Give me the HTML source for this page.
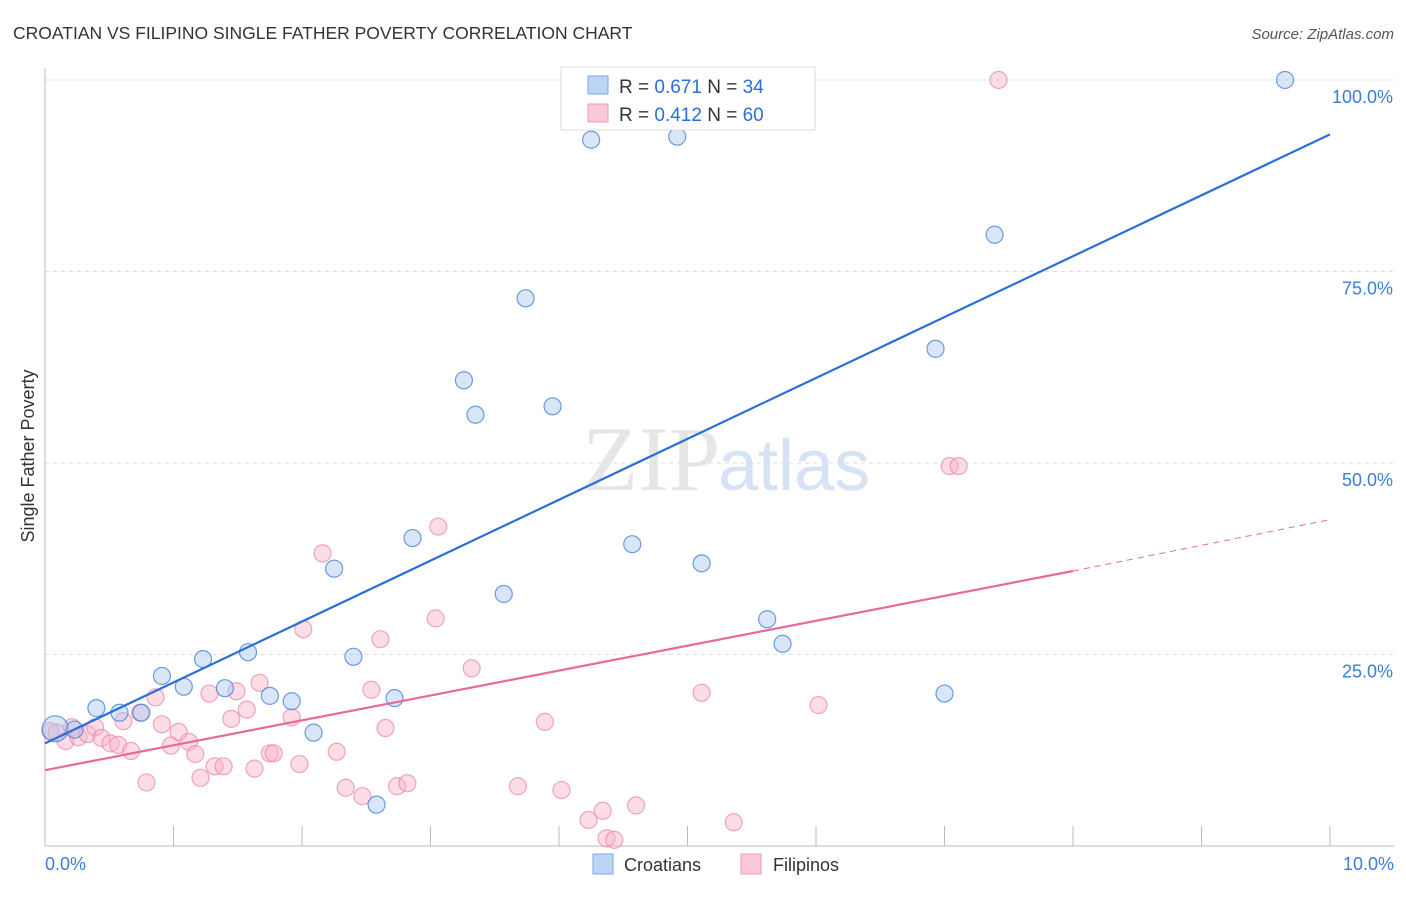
<!DOCTYPE html>
<html><head><meta charset="utf-8">
<style>
body{margin:0;background:#fff;font-family:"Liberation Sans",sans-serif;}
svg text{font-family:"Liberation Sans",sans-serif;}
</style></head>
<body>
<svg width="1406" height="892" xmlns="http://www.w3.org/2000/svg">
<text x="13" y="39" font-size="17.5" fill="#333">CROATIAN VS FILIPINO SINGLE FATHER POVERTY CORRELATION CHART</text>
<text x="1394" y="39" font-size="15" fill="#555" font-style="italic" text-anchor="end">Source: ZipAtlas.com</text>
<text x="720" y="490" font-size="92" fill="#e6e6e6" text-anchor="end" font-family="Liberation Serif" style="font-family:'Liberation Serif',serif">ZIP</text>
<text x="718" y="490" font-size="72" fill="#d5e3f5">atlas</text>
<g id="grid"></g>
<g id="axes"></g>
<g id="marks"></g>
<text transform="translate(34,456) rotate(-90)" font-size="18" fill="#333" text-anchor="middle">Single Father Poverty</text>
<g>
<rect x="561" y="67" width="254" height="63" fill="#fff" stroke="#ddd"/>
<rect x="588" y="76" width="20" height="18" fill="#bcd5f7" stroke="#7aa7e8"/>
<rect x="588" y="104" width="20" height="18" fill="#fbc9d8" stroke="#ee9ab5"/>
<text x="619" y="93" font-size="19" fill="#333">R = <tspan fill="#2b6fd6">0.671</tspan>   N = <tspan fill="#2b6fd6">34</tspan></text>
<text x="619" y="121" font-size="19" fill="#333">R = <tspan fill="#2b6fd6">0.412</tspan>   N = <tspan fill="#2b6fd6">60</tspan></text>
</g>
<g>
<rect x="593" y="854" width="20" height="20" fill="#bcd5f7" stroke="#7aa7e8"/>
<text x="624" y="871" font-size="18" fill="#333">Croatians</text>
<rect x="741" y="854" width="20" height="20" fill="#fbc9d8" stroke="#ee9ab5"/>
<text x="773" y="871" font-size="18" fill="#333">Filipinos</text>
</g>
</svg>
<script>
const xTickLabels=["0.0%","10.0%"];
const yTicks=[25,50,75,100];
const yTickLabels=["25.0%","50.0%","75.0%","100.0%"];
const croX=[0.08,0.23,0.40,0.58,0.75,0.91,1.08,1.23,1.40,1.58,1.75,1.92,2.09,2.25,2.40,2.58,2.72,2.86,3.26,3.35,3.57,3.74,3.95,4.25,4.57,4.92,5.11,5.25,5.62,5.74,6.93,7.00,7.39,9.65];
const croY=[15.3,15.2,18.0,17.4,17.4,22.2,20.8,24.4,20.6,25.3,19.6,18.9,14.8,36.2,24.7,5.4,19.3,40.2,60.8,56.3,32.9,71.5,57.4,92.2,39.4,92.6,36.9,100,29.6,26.4,64.9,19.9,79.8,100];
const filX=[0.04,0.09,0.16,0.21,0.26,0.33,0.39,0.44,0.51,0.57,0.61,0.67,0.79,0.86,0.91,0.98,1.04,1.12,1.17,1.21,1.28,1.32,1.39,1.45,1.49,1.57,1.63,1.67,1.75,1.78,1.92,1.98,2.01,2.16,2.27,2.34,2.47,2.54,2.65,2.61,2.74,2.82,3.06,3.04,3.32,3.68,3.89,4.02,4.23,4.34,4.37,4.43,4.60,5.11,5.36,6.02,7.04,7.11,7.42,0.74];
const filY=[15.0,14.8,13.7,15.5,14.2,14.6,15.5,14.1,13.4,13.2,16.3,12.4,8.3,19.4,15.9,13.1,14.9,13.6,12.0,8.9,19.9,10.4,10.4,16.6,20.2,17.8,10.1,21.3,12.1,12.1,16.8,10.7,28.3,38.2,12.3,7.6,6.5,20.4,15.4,27.0,7.8,8.2,41.7,29.7,23.2,7.8,16.2,7.3,3.4,4.6,1.0,0.8,5.3,20.0,3.1,18.4,49.6,49.6,100,17.4];
const croFit=[13.4,92.9];
const filFit=[9.9,35.9,42.6];
const X0=45,X1=1330,Y0=846,Y100=80;
const sx=v=>X0+(X1-X0)*v/10;
const sy=v=>Y0-(Y0-Y100)*v/100;
const NS="http://www.w3.org/2000/svg";
function mk(tag,attrs,parent){const e=document.createElementNS(NS,tag);for(const k in attrs)e.setAttribute(k,attrs[k]);parent.appendChild(e);return e;}
const grid=document.getElementById('grid'),axes=document.getElementById('axes'),marks=document.getElementById('marks');
yTicks.forEach((t,i)=>{
 const l=mk('line',{x1:X0,x2:1394,y1:sy(t),y2:sy(t),stroke:'#ddd','stroke-dasharray':'4,4'},grid);
 
 
 const tx=mk('text',{x:1393,y:sy(t)+23,'font-size':18,fill:'#3b7dd8','text-anchor':'end'},axes);
 tx.textContent=yTickLabels[i];
 
 
});
const ax=mk('line',{x1:X0,x2:X0,y1:68,y2:846,stroke:'#bbb'},axes);


const bx=mk('line',{x1:X0,x2:1394,y1:846,y2:846,stroke:'#bbb'},axes);


for(let k=1;k<=10;k++){
 const t=mk('line',{x1:sx(k),x2:sx(k),y1:826,y2:846,stroke:'#bbb'},axes);
 
 
}
const xl0=mk('text',{x:45,y:870,'font-size':18,fill:'#3b7dd8'},axes);xl0.textContent=xTickLabels[0];


const xl1=mk('text',{x:1394,y:870,'font-size':18,fill:'#3b7dd8','text-anchor':'end'},axes);xl1.textContent=xTickLabels[1];


filX.forEach((x,i)=>{
 const c=mk('circle',{cx:sx(x),cy:sy(filY[i]),r:8.5,fill:'rgba(248,180,200,0.45)',stroke:'rgba(236,130,165,0.7)','stroke-width':1.2},marks);
 
 
});
croX.forEach((x,i)=>{
 const c=mk('circle',{cx:sx(x),cy:sy(croY[i]),r:i===0?13:8.5,fill:'rgba(170,200,240,0.45)',stroke:'rgba(60,125,215,0.75)','stroke-width':1.2},marks);
 
 
});
const bl=mk('line',{x1:sx(0),y1:sy(croFit[0]),x2:sx(10),y2:sy(croFit[1]),stroke:'#2a6fd8','stroke-width':2.2},marks);


const pl=mk('line',{x1:sx(0),y1:sy(filFit[0]),x2:sx(8),y2:sy(filFit[1]),stroke:'#e8699a','stroke-width':2.2},marks);


const pd=mk('line',{x1:sx(8),y1:sy(filFit[1]),x2:sx(10),y2:sy(filFit[2]),stroke:'#e8699a','stroke-width':1,'stroke-dasharray':'6,5'},marks);


</script>
</body></html>
